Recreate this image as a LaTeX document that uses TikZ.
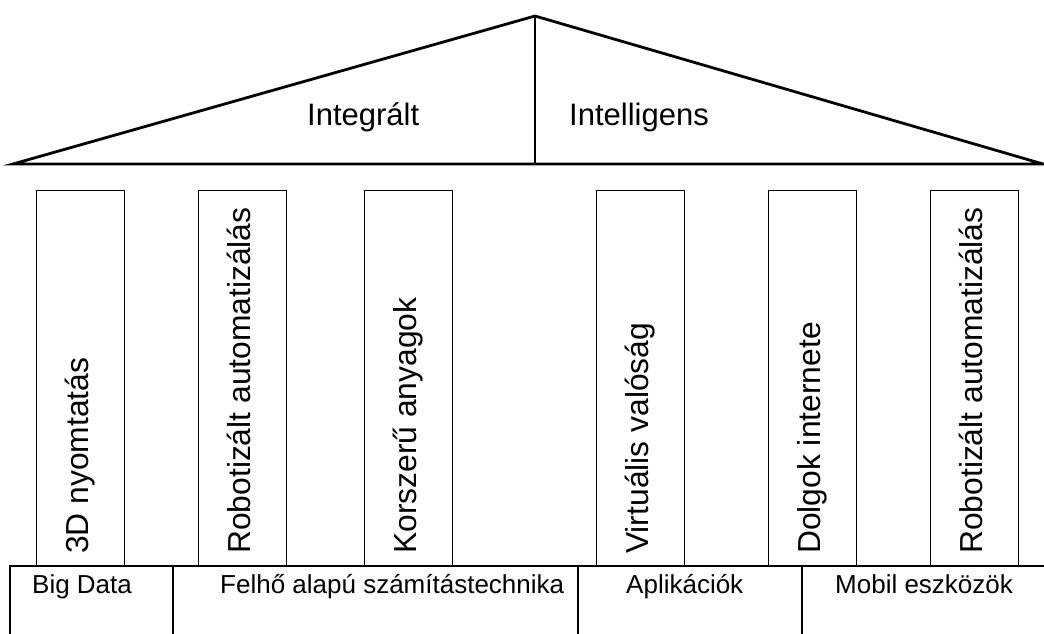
\documentclass[tikz,border=0pt]{standalone}
\usepackage{fontspec}
\setmainfont{Liberation Sans}
\begin{document}
\begin{tikzpicture}[x=1pt,y=-1pt,
  roof/.style={line width=2.8pt, line join=miter},
  thinline/.style={line width=1.4pt},
  colbox/.style={draw, line width=1.2pt, minimum width=88pt, minimum height=376pt, inner sep=0pt, anchor=north west},
  coltext/.style={font=\fontsize{31.8}{31.8}\selectfont, rotate=90, anchor=base west, inner sep=0pt},
  rooftext/.style={font=\fontsize{31}{31}\selectfont, anchor=base west, inner sep=0pt},
  basetext/.style={font=\fontsize{26}{26}\selectfont, anchor=base west, inner sep=0pt}]
\useasboundingbox (0,0) rectangle (1044,634);
% roof
\coordinate (L) at (13,164);
\coordinate (A) at (535,16);
\coordinate (R) at (1043,164);
\coordinate (M) at (535,164);
\draw[roof] (L) -- (A) -- (R) -- cycle;
\draw[thinline] (A) -- (M);
\node[rooftext] (t1) at (307,125) {Integrált};
\node[rooftext] (t2) at (569,125) {Intelligens};
% columns
\node[colbox] (c1) at (36,190) {};
\node[colbox] (c2) at (198,190) {};
\node[colbox] (c3) at (364,190) {};
\node[colbox] (c4) at (596,190) {};
\node[colbox] (c5) at (768,190) {};
\node[colbox] (c6) at (930,190) {};
\node[coltext] (l1) at (88,554) {3D nyomtatás};
\node[coltext] (l2) at (250,554) {Robotizált automatizálás};
\node[coltext] (l3) at (416,554) {Korszerű anyagok};
\node[coltext] (l4) at (648,554) {Virtuális valóság};
\node[coltext] (l5) at (820,554) {Dolgok internete};
\node[coltext] (l6) at (982,554) {Robotizált automatizálás};
% base
\coordinate (b0) at (10,566);
\coordinate (b1) at (173,566);
\coordinate (b2) at (578,566);
\coordinate (b3) at (802,566);
\coordinate (bE) at (1044,566);
\coordinate (d0) at (10,634);
\coordinate (d1) at (173,634);
\coordinate (d2) at (578,634);
\coordinate (d3) at (802,634);
\draw[thinline] (bE) -- (b0) -- (d0);
\draw[thinline] (b1) -- (d1);
\draw[thinline] (b2) -- (d2);
\draw[thinline] (b3) -- (d3);
\node[basetext] (s1) at (32,593) {Big Data};
\node[basetext] (s2) at (220,593) {Felhő alapú számítástechnika};
\node[basetext] (s3) at (626,593) {Aplikációk};
\node[basetext] (s4) at (835,593) {Mobil eszközök};
\end{tikzpicture}
\end{document}
